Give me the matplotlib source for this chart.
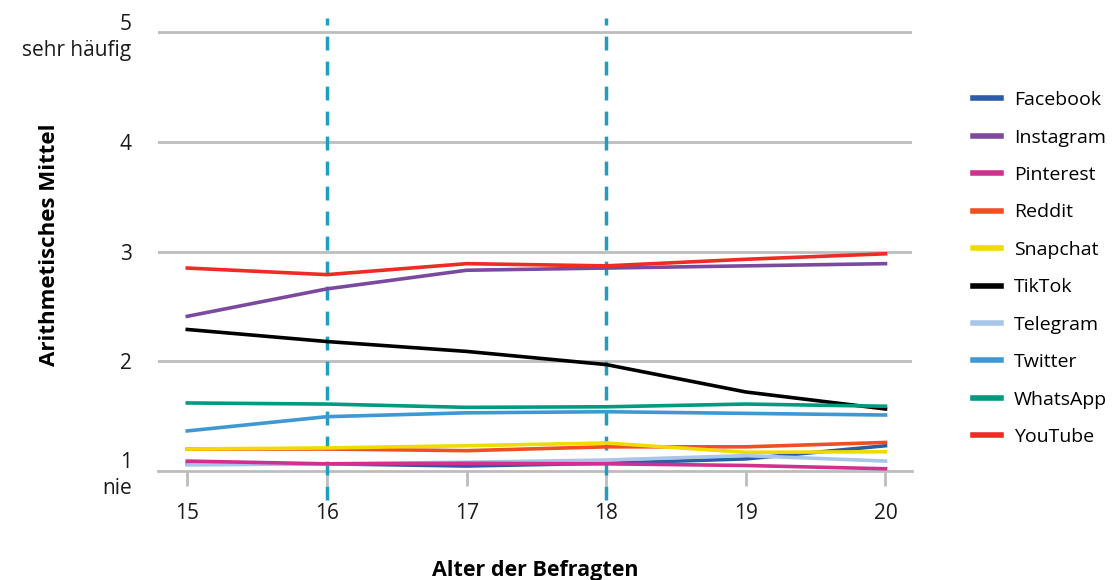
import matplotlib.pyplot as plt

# Alter der Befragten
ages = [15, 16, 17, 18, 19, 20]

facebook = [1.065, 1.065, 1.045, 1.07, 1.11, 1.23]
instagram = [2.41, 2.66, 2.83, 2.85, 2.87, 2.89]
pinterest = [1.09, 1.065, 1.07, 1.065, 1.05, 1.02]
reddit = [1.20, 1.20, 1.185, 1.22, 1.22, 1.26]
snapchat = [1.20, 1.21, 1.23, 1.255, 1.17, 1.175]
tiktok = [2.29, 2.18, 2.09, 1.97, 1.72, 1.565]
telegram = [1.055, 1.065, 1.08, 1.10, 1.14, 1.09]
twitter = [1.365, 1.495, 1.53, 1.54, 1.525, 1.51]
whatsapp = [1.62, 1.61, 1.58, 1.585, 1.61, 1.59]
youtube = [2.85, 2.79, 2.89, 2.87, 2.93, 2.98]

names = ["Facebook", "Instagram", "Pinterest", "Reddit", "Snapchat",
         "TikTok", "Telegram", "Twitter", "WhatsApp", "YouTube"]
series = [facebook, instagram, pinterest, reddit, snapchat,
          tiktok, telegram, twitter, whatsapp, youtube]
colors = ["#2b5ca8", "#7b4a9e", "#d0318e", "#f04e23", "#f0db00",
          "#000000", "#a8c6e8", "#3f97d3", "#009a80", "#ee2b24"]
zorders = [3, 3, 4, 3, 4, 3, 3, 3, 3, 3]

plt.rcParams['font.family'] = ['Open Sans', 'DejaVu Sans']

fig = plt.figure(figsize=(11.14, 5.8), dpi=100)
ax = fig.add_axes([0.1418, 0.188, 0.6769, 0.781])

for y in [2, 3, 4, 5]:
    ax.axhline(y, color="#bdbdbd", lw=2, zorder=1)

for x in [16, 18]:
    ax.axvline(x, ymin=-0.065, ymax=1, color="#1f9fc0", lw=2.5,
               ls=(0, (4, 3.2)), clip_on=False, zorder=2)

for name, vals, c, z in zip(names, series, colors, zorders):
    ax.plot(ages, vals, color=c, lw=2.6, label=name, zorder=z)

ax.set_xlim(14.79, 20.19)
ax.set_ylim(1, 5.13)

for s in ["top", "right", "left"]:
    ax.spines[s].set_visible(False)
ax.spines["bottom"].set_color("#bdbdbd")
ax.spines["bottom"].set_linewidth(2)
ax.spines["bottom"].set_zorder(1)

ax.set_xticks(ages)
ax.tick_params(axis="x", colors="#bdbdbd", length=11, width=2, pad=12,
               labelcolor="#1a1a1a", labelsize=15)
ax.set_yticks([1, 2, 3, 4, 5])
ax.set_yticklabels(["1\nnie", "2", "3", "4", "5\nsehr häufig"])
ax.tick_params(axis="y", length=0, pad=19, labelsize=15, labelcolor="#1a1a1a")
for lbl in ax.get_yticklabels():
    lbl.set_horizontalalignment("right")
    lbl.set_linespacing(1.3)

ax.set_ylabel("Arithmetisches Mittel", fontsize=16, fontweight="bold")
ax.yaxis.set_label_coords(-0.130, 0.5)
ax.set_xlabel("Alter der Befragten", fontsize=15.5, fontweight="bold", labelpad=26)

fig.legend(loc="upper left", bbox_to_anchor=(0.8575, 0.873), frameon=False,
           fontsize=14, handlelength=1.45, handletextpad=0.68, labelspacing=1.0)
for h in fig.legends[0].get_lines():
    h.set_linewidth(4)

fig.savefig("out.png", dpi=100)
